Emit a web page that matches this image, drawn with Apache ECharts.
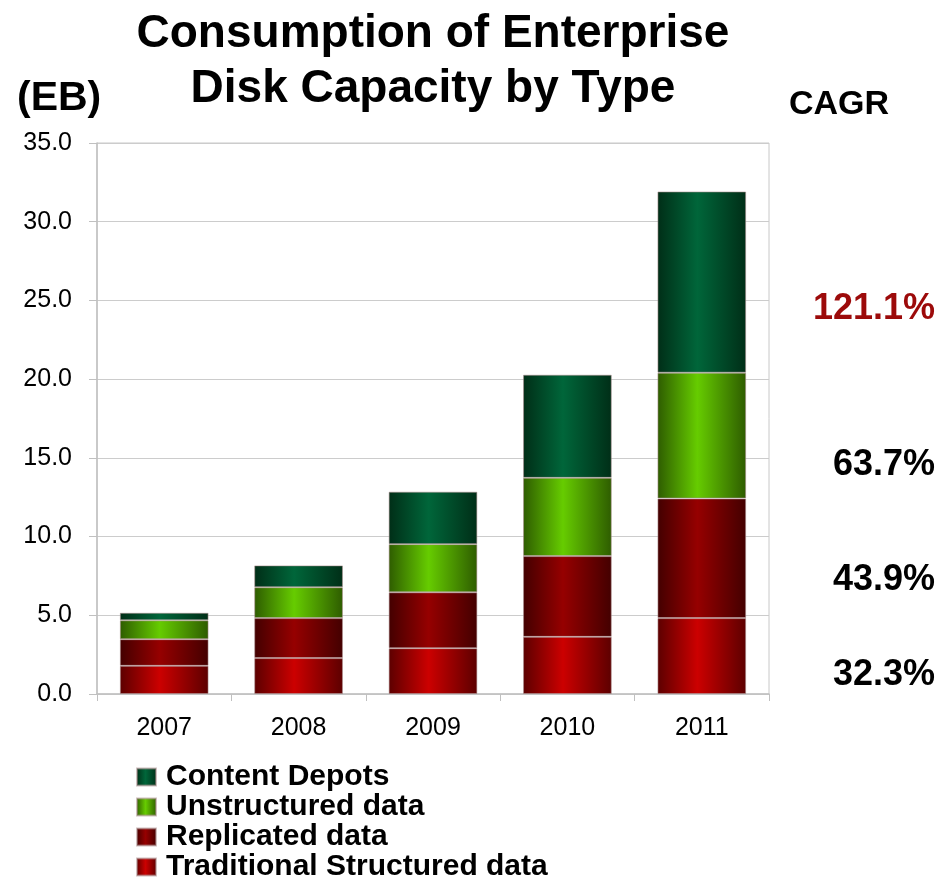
<!DOCTYPE html>
<html>
<head>
<meta charset="UTF-8">
<title>Consumption of Enterprise Disk Capacity by Type</title>
<script src="https://cdn.jsdelivr.net/npm/echarts@6/dist/echarts.min.js"></script>
<style>
    html, body { margin: 0; padding: 0; background: #fff; }
    #main { width: 952px; height: 877px; }
</style>
</head>
<body>
<div id="main"></div>
<script>
    // values (EB)
    var years = ['2007', '2008', '2009', '2010', '2011'];
    var traditional = [1.79, 2.28, 2.91, 3.63, 4.82];
    var replicated = [1.69, 2.54, 3.55, 5.13, 7.60];
    var unstructured = [1.20, 1.96, 3.06, 4.97, 7.99];
    var contentDepots = [0.48, 1.39, 3.33, 6.55, 11.51];

    var seriesNames = ['Traditional Structured data', 'Replicated data', 'Unstructured data', 'Content Depots'];
    var legendOrder = ['Content Depots', 'Unstructured data', 'Replicated data', 'Traditional Structured data'];
    var cagrLabels = ['121.1%', '63.7%', '43.9%', '32.3%'];

    var font = '"Liberation Sans", Arial, sans-serif';

    function grad(edge, mid) {
        return new echarts.graphic.LinearGradient(0, 0, 1, 0, [
            { offset: 0, color: edge },
            { offset: 0.45, color: mid },
            { offset: 1, color: edge }
        ]);
    }

    var colors = [
        grad('#5c0000', '#cc0000'),
        grad('#430000', '#960000'),
        grad('#2e5c00', '#66cc00'),
        grad('#002e17', '#00663a')
    ];
    var values = [traditional, replicated, unstructured, contentDepots];

    var series = [];
    for (var k = 0; k < seriesNames.length; k++) {
        series.push({
            name: seriesNames[k],
            type: 'bar',
            stack: 'total',
            barWidth: '66%',
            data: values[k],
            itemStyle: {
                color: colors[k],
                borderColor: 'rgba(170,140,140,0.55)',
                borderWidth: 1
            }
        });
    }

    var cagrY = [310, 466, 581, 676];
    var graphics = [
        { type: 'text', left: 17, top: 78, style: { text: '(EB)', font: 'bold 41px ' + font, fill: '#000' } },
        { type: 'text', left: 789, top: 88, style: { text: 'CAGR', font: 'bold 34px ' + font, fill: '#000' } }
    ];
    for (var c = 0; c < cagrLabels.length; c++) {
        graphics.push({
            type: 'text',
            right: 17,
            top: cagrY[c] - 19,
            style: {
                text: cagrLabels[c],
                font: 'bold 36px ' + font,
                fill: c == 0 ? '#9c0a0a' : '#000'
            }
        });
    }

    var chart = echarts.init(document.getElementById('main'));
    chart.setOption({
        animation: false,
        backgroundColor: '#fff',
        title: {
            text: 'Consumption of Enterprise\nDisk Capacity by Type',
            left: 428,
            top: 2,
            textAlign: 'center',
            textStyle: {
                fontFamily: font,
                fontWeight: 'bold',
                fontSize: 46,
                lineHeight: 55,
                color: '#000'
            }
        },
        legend: {
            data: legendOrder,
            orient: 'vertical',
            left: 131,
            top: 757,
            height: 125,
            icon: 'rect',
            itemWidth: 19,
            itemHeight: 17,
            itemGap: 0,
            selectedMode: false,
            textStyle: {
                fontFamily: font,
                fontWeight: 'bold',
                fontSize: 30,
                lineHeight: 29,
                color: '#000',
                padding: [0, 0, 0, 5]
            }
        },
        graphic: graphics,
        grid: {
            left: 97,
            right: 183,
            top: 143,
            bottom: 183,
            show: true,
            borderColor: '#c8c8c8',
            borderWidth: 1
        },
        xAxis: {
            type: 'category',
            data: years,
            axisLine: { lineStyle: { color: '#c0c0c0', width: 1.5 } },
            axisTick: { show: true, length: 7, lineStyle: { color: '#c0c0c0' } },
            axisLabel: {
                fontFamily: font,
                fontSize: 25,
                color: '#000',
                margin: 22
            }
        },
        yAxis: {
            type: 'value',
            min: 0,
            max: 35,
            interval: 5,
            axisLine: { show: true, lineStyle: { color: '#c0c0c0', width: 1.5 } },
            axisTick: { show: true, length: 8, lineStyle: { color: '#c0c0c0' } },
            splitLine: { lineStyle: { color: '#cccccc' } },
            axisLabel: {
                fontFamily: font,
                fontSize: 25,
                color: '#000',
                margin: 25,
                formatter: function (v) { return v.toFixed(1); }
            }
        },
        series: series
    });
</script>
</body>
</html>
